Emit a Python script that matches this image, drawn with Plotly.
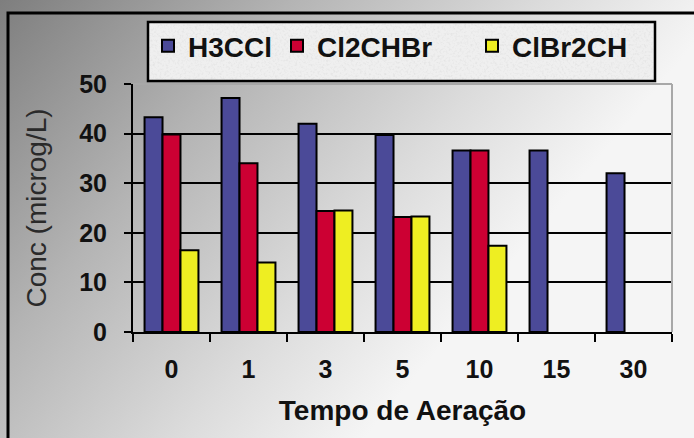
import base64
import plotly.graph_objects as go

# Aeration time categories and measured concentrations (microg/L)
tempos = ["0", "1", "3", "5", "10", "15", "30"]
h3ccl = [43.3, 47.2, 42.0, 39.7, 36.6, 36.6, 32.0]
cl2chbr = [39.8, 34.0, 24.4, 23.2, 36.6, None, None]
clbr2ch = [16.5, 14.0, 24.5, 23.3, 17.4, None, None]

series_names = ["H3CCl", "Cl2CHBr", "ClBr2CH"]
series_values = [h3ccl, cl2chbr, clbr2ch]
series_colors = ["#4B4A98", "#CC0033", "#EEEE22"]
legend_widths = [84, 150, 125]

y_ticks = [0, 10, 20, 30, 40, 50]

W, H = 694, 438
ML, MR, MT, MB = 133, 22, 84, 106
PW, PH = W - ML - MR, H - MT - MB


def px_x(px):
    return (px - ML) / PW


def px_y(py):
    return (H - MB - py) / PH


# soft diagonal grey backdrop with a speckled panel behind the legend
svg = f"""<svg xmlns='http://www.w3.org/2000/svg' width='{W}' height='{H}' viewBox='0 0 {W} {H}'>
<defs>
<linearGradient id='g' gradientUnits='userSpaceOnUse' x1='0' y1='0' x2='430' y2='360'>
<stop offset='0' stop-color='#7e7e7e'/>
<stop offset='0.4' stop-color='#b4b4b4'/>
<stop offset='0.75' stop-color='#dcdcdc'/>
<stop offset='1' stop-color='#f5f5f5'/>
</linearGradient>
<filter id='n' x='0' y='0' width='100%' height='100%'>
<feTurbulence type='fractalNoise' baseFrequency='0.45' numOctaves='2' seed='7'/>
<feColorMatrix type='matrix' values='0 0 0 0 0.6  0 0 0 0 0.6  0 0 0 0 0.6  1.6 0 0 0 -0.75'/>
</filter>
</defs>
<rect width='{W}' height='{H}' fill='url(#g)'/>
<rect x='148' y='22' width='507' height='59' fill='#efefef'/>
<rect x='148' y='22' width='507' height='59' filter='url(#n)' opacity='0.5'/>
</svg>"""
bg_src = "data:image/svg+xml;base64," + base64.b64encode(svg.encode()).decode()

fig = go.Figure()
for name, vals, col, lw in zip(series_names, series_values, series_colors, legend_widths):
    fig.add_trace(go.Bar(
        x=tempos, y=vals, name=name,
        marker=dict(color=col, line=dict(color="black", width=2)),
        legendwidth=lw,
    ))

font_b = dict(family="Liberation Sans, Arial, sans-serif", color="#111111", weight="bold")

fig.update_layout(
    width=W, height=H,
    margin=dict(l=ML, r=MR, t=MT, b=MB, autoexpand=False),
    paper_bgcolor="#dddddd",
    plot_bgcolor="white",
    barmode="group", bargap=0.3, bargroupgap=0,
    showlegend=True,
    legend=dict(
        orientation="h", x=px_x(148), xanchor="left", y=px_y(21), yanchor="top",
        bgcolor="rgba(0,0,0,0)", borderwidth=0,
        font=dict(size=28, **font_b), itemwidth=30, traceorder="normal",
    ),
    images=[dict(
        source=bg_src, xref="paper", yref="paper",
        x=px_x(0), y=px_y(0), sizex=W / PW, sizey=H / PH,
        xanchor="left", yanchor="top", sizing="stretch", layer="below",
    )],
    shapes=[
        # outer frame
        dict(type="rect", xref="paper", yref="paper",
             x0=px_x(8), x1=px_x(W + 10), y0=px_y(H + 10), y1=px_y(13),
             line=dict(color="black", width=3), fillcolor="rgba(0,0,0,0)", layer="above"),
        # legend panel border
        dict(type="rect", xref="paper", yref="paper",
             x0=px_x(148), x1=px_x(655), y0=px_y(81), y1=px_y(22),
             line=dict(color="black", width=2.5), fillcolor="rgba(0,0,0,0)", layer="above"),
        # light plot-area edge on top and right
        dict(type="line", xref="paper", yref="paper", x0=0, x1=1, y0=1, y1=1,
             line=dict(color="#a8a8a8", width=2), layer="above"),
        dict(type="line", xref="paper", yref="paper", x0=1, x1=1, y0=0, y1=1,
             line=dict(color="#a8a8a8", width=2), layer="above"),
    ],
    xaxis=dict(
        type="category", categoryorder="array", categoryarray=tempos,
        showline=True, linecolor="black", linewidth=2,
        ticks="outside", tickson="boundaries", ticklen=8, tickwidth=2, tickcolor="black",
        tickfont=dict(size=25, **font_b), ticklabelstandoff=14,
        showgrid=False,
        title=dict(text="Tempo de Aeração", font=dict(size=28, **font_b), standoff=18),
    ),
    yaxis=dict(
        range=[0, 50], tickvals=y_ticks,
        showline=True, linecolor="black", linewidth=2,
        ticks="outside", ticklen=7, tickwidth=2, tickcolor="black",
        tickfont=dict(size=25, **font_b), ticklabelstandoff=12,
        showgrid=True, gridcolor="black", gridwidth=2, zeroline=False,
        title=dict(text="Conc (microg/L)",
                   font=dict(size=28, family="Liberation Sans, Arial, sans-serif", color="#2a2a2a"),
                   standoff=24),
    ),
)

fig.write_html("out.html")
